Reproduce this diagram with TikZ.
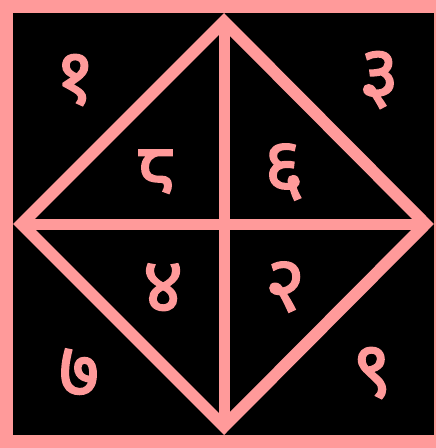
\documentclass[tikz,border=0pt]{standalone}
\usepackage{fontspec}
\newfontfamily\devfont[Script=Devanagari,FakeBold=2]{Noto Sans}
\newfontfamily\nepfont[Script=Devanagari,Language=Nepali,FakeBold=2]{Noto Sans}
\usepackage{tikz}
\usetikzlibrary{positioning}
\definecolor{chartpink}{HTML}{FF9A9A}

\begin{document}
\begin{tikzpicture}[
      x=1pt,y=-1pt,
      edge/.style={draw=chartpink,line width=12pt,line join=miter},
      cross/.style={draw=chartpink,line width=11pt},
      num/.style={text=chartpink,font=\devfont\fontsize{78}{78}\selectfont,
                  inner sep=0pt}]
    \useasboundingbox (0,0) rectangle (436,448);
    \fill[chartpink] (0,0) rectangle (436,448);
    \fill[black] (13,13) rectangle (434,435);

    \coordinate (top) at (224,21.5);
    \coordinate (left) at (21.5,224);
    \coordinate (right) at (425.5,224);
    \coordinate (bottom) at (224,426.5);
    \draw[cross] (top) -- (bottom);
    \draw[cross] (left) -- (right);
    \draw[edge] (top) -- (right) -- (bottom) -- (left) -- cycle;

    \node[num] (one) at (75,80) {१};
    \node[num] (three) at (379,80) {३};
    \node[num] (eight) at (155,172) {\nepfont ८};
    \node[num] (six) at (284,172) {६};
    \node[num] (four) at (163,288) {४};
    \node[num] (two) at (285,287) {२};
    \node[num] (seven) at (79,373) {७};
    \node[num] (nine) at (372,373) {९};
  \end{tikzpicture}
\end{document}
